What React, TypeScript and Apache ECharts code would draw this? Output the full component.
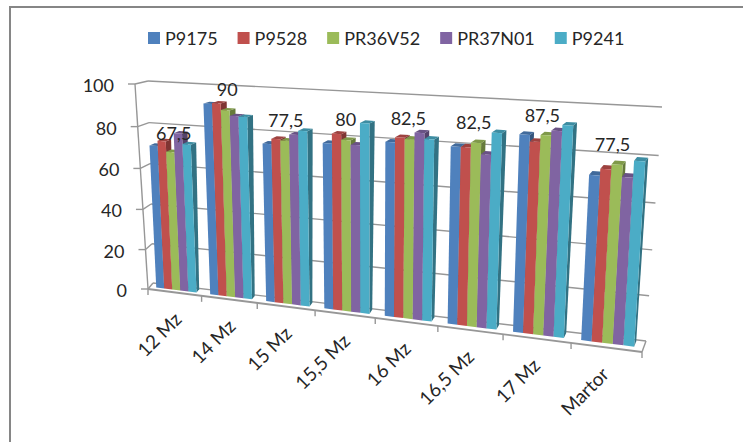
import React, { useEffect, useRef } from "react";
import * as echarts from "echarts";

const categories = ["12 Mz", "14 Mz", "15 Mz", "15,5 Mz", "16 Mz", "16,5 Mz", "17 Mz", "Martor"];
const valueTicks = [0, 20, 40, 60, 80, 100];
const p9175 = [70.5, 92, 75.3, 77.5, 80, 80, 87, 72];
const p9528 = [73, 92.5, 77.8, 82, 82.3, 80, 84.3, 74.9];
const pr36v52 = [68, 89.5, 77.3, 79.5, 81.8, 82.2, 87.3, 77.1];
const pr37n01 = [77.2, 87.1, 80.3, 77.6, 84.9, 77.4, 89.4, 72.1];
const p9241 = [72.3, 87, 82.3, 87.6, 82.4, 87, 92, 79.2];
const labelValues = [67.5, 90, 77.5, 80, 82.5, 82.5, 87.5, 77.5];
const seriesNames = ["P9175", "P9528", "PR36V52", "PR37N01", "P9241"];
const seriesValues = [p9175, p9528, pr36v52, pr37n01, p9241];
const seriesColors = ["#4F81BD", "#C0504D", "#9BBB59", "#8064A2", "#4BACC6"];

const W = 743;
const H = 442;
const FONT = "Lato";
const TEXT = "#262626";
const GRID = "#979797";

type Pt = [number, number];

function homography(bl: Pt, br: Pt, tr: Pt, tl: Pt) {
  const [x0, y0] = bl, [x1, y1] = br, [x2, y2] = tr, [x3, y3] = tl;
  const dx1 = x1 - x2, dx2 = x3 - x2, sx = x0 - x1 + x2 - x3;
  const dy1 = y1 - y2, dy2 = y3 - y2, sy = y0 - y1 + y2 - y3;
  const den = dx1 * dy2 - dx2 * dy1;
  const g = (sx * dy2 - dx2 * sy) / den;
  const h = (dx1 * sy - sx * dy1) / den;
  const a = x1 - x0 + g * x1, b = x3 - x0 + h * x3;
  const d = y1 - y0 + g * y1, e = y3 - y0 + h * y3;
  return (s: number, t: number): Pt => {
    const q = g * s + h * t + 1;
    return [(a * s + b * t + x0) / q, (d * s + e * t + y0) / q];
  };
}

const front = homography([148, 289], [642, 352], [656, 113], [135, 84]);
const back = homography([153, 283], [646, 341], [662, 107], [148, 81]);

// projects a flat grid pixel (the library's scale output) into the 3D scene
function project(px: number, py: number, w: number, du = 0): Pt {
  const s = px / W + du / categories.length;
  const t = (H - py) / H;
  const f = front(s, t);
  const b = back(s, t);
  return [f[0] + (b[0] - f[0]) * w, f[1] + (b[1] - f[1]) * w];
}

function shade(hex: string, k: number) {
  const n = parseInt(hex.slice(1), 16);
  const c = (v: number) => Math.round(Math.min(255, v * k));
  return `rgb(${c((n >> 16) & 255)},${c((n >> 8) & 255)},${c(n & 255)})`;
}

const BAR_U = 0.15;
const W0 = 0.38;
const W1 = 0.88;

function barRenderer(seriesIndex: number, color: string) {
  return (_p: any, api: any) => {
    const top = api.coord([api.value(0), api.value(1)]);
    const base = api.coord([api.value(0), 0]);
    const u0 = -0.38 + seriesIndex * BAR_U;
    const u1 = u0 + BAR_U;
    const a = project(base[0], base[1], W0, u0);
    const b = project(base[0], base[1], W0, u1);
    const c = project(top[0], top[1], W0, u1);
    const d = project(top[0], top[1], W0, u0);
    const b2 = project(base[0], base[1], W1, u1);
    const c2 = project(top[0], top[1], W1, u1);
    const d2 = project(top[0], top[1], W1, u0);
    return {
      type: "group",
      children: [
        { type: "polygon", shape: { points: [b, b2, c2, c] }, style: { fill: shade(color, 0.66) } },
        { type: "polygon", shape: { points: [d, c, c2, d2] }, style: { fill: shade(color, 0.82) } },
        { type: "polygon", shape: { points: [a, b, c, d] }, style: { fill: color } },
      ],
    };
  };
}

function line(p: Pt, q: Pt, width = 1.4) {
  return {
    type: "line",
    shape: { x1: p[0], y1: p[1], x2: q[0], y2: q[1] },
    style: { stroke: GRID, lineWidth: width },
  };
}

function valueAxisRenderer(_p: any, api: any) {
  const v = api.value(1);
  const pos = api.coord([0, v]);
  const zero = api.coord([0, 0]);
  const f = project(0, pos[1], 0);
  const b = project(0, pos[1], 1);
  const r = project(W, pos[1], 1);
  const children: any[] = [
    line([f[0] - 7, f[1]], f),
    line(f, b),
    line(b, r),
    {
      type: "text",
      x: f[0] - 21,
      y: f[1] + 1,
      style: {
        text: String(v),
        fill: TEXT,
        fontFamily: FONT,
        fontSize: 18,
        align: "right",
        verticalAlign: "middle",
      },
    },
  ];
  if (v === 100) {
    const f0 = project(0, zero[1], 0);
    children.push(line(f, f0));
  }
  return { type: "group", children };
}

function categoryAxisRenderer(_p: any, api: any) {
  const i = api.value(0);
  const pos = api.coord([i, 0]);
  const edge = project(pos[0], pos[1], 0, 0.5);
  const center = project(pos[0], pos[1], 0, 0);
  const children: any[] = [
    line(edge, [edge[0], edge[1] + 6]),
    {
      type: "text",
      x: center[0] + 3 - i * 0.6,
      y: center[1] + 23,
      rotation: Math.PI / 4,
      style: {
        text: categories[i],
        fill: TEXT,
        fontFamily: FONT,
        fontSize: 19,
        align: "right",
        verticalAlign: "middle",
      },
    },
  ];
  if (i === 0) {
    const s = project(pos[0], pos[1], 0, -0.5);
    children.push(line(s, [s[0], s[1] + 6]));
    const e = project(W, pos[1], 0);
    children.push(line(s, e, 1.8));
    const e2 = project(W, pos[1], 1);
    children.push(line(e, e2));
  }
  return { type: "group", children };
}

function labelRenderer(_p: any, api: any) {
  const i = api.value(0);
  const v = api.value(1);
  const pos = api.coord([i, v]);
  const p = project(pos[0], pos[1], W0);
  return {
    type: "text",
    x: p[0] + 3 - i * 1.15,
    y: p[1] - 20,
    style: {
      text: String(v).replace(".", ","),
      fill: TEXT,
      fontFamily: FONT,
      fontSize: 18,
      align: "center",
      verticalAlign: "middle",
    },
  };
}

export default function App() {
  const ref = useRef<HTMLDivElement>(null);
  useEffect(() => {
    const chart = echarts.init(ref.current!, undefined, { renderer: "svg" });
    const barSeries = seriesNames.map((name, k) => ({
      type: "custom",
      name,
      renderItem: barRenderer(k, seriesColors[k]),
      encode: { x: 0, y: 1 },
      itemStyle: { color: seriesColors[k] },
      clip: false,
      z: 3,
      data: seriesValues[k].map((v, i) => [i, v]),
    }));
    chart.setOption({
      animation: false,
      backgroundColor: "#ffffff",
      grid: { left: 0, right: 0, top: 0, bottom: 0 },
      xAxis: { type: "category", data: categories, show: false },
      yAxis: { type: "value", min: 0, max: 100, show: false },
      legend: {
        data: seriesNames,
        left: 143,
        top: 24,
        icon: "rect",
        itemWidth: 12,
        itemHeight: 12,
        itemGap: 20,
        textStyle: { fontFamily: FONT, fontSize: 18, color: TEXT },
        selectedMode: false,
      },
      graphic: [
        { type: "rect", shape: { x: 9, y: 6, width: 734, height: 2 }, style: { fill: "#868686" } },
        { type: "rect", shape: { x: 9, y: 6, width: 2, height: 436 }, style: { fill: "#868686" } },
      ],
      series: [
        {
          type: "custom",
          name: "valueAxis",
          renderItem: valueAxisRenderer,
          encode: { x: 0, y: 1 },
          clip: false,
          z: 1,
          data: valueTicks.map((v) => [0, v]),
        },
        {
          type: "custom",
          name: "categoryAxis",
          renderItem: categoryAxisRenderer,
          encode: { x: 0, y: 1 },
          clip: false,
          z: 2,
          data: categories.map((_, i) => [i, 0]),
        },
        ...barSeries,
        {
          type: "custom",
          name: "labels",
          renderItem: labelRenderer,
          encode: { x: 0, y: 1 },
          clip: false,
          z: 5,
          data: labelValues.map((v, i) => [i, v]),
        },
      ],
    });
    return () => chart.dispose();
  }, []);
  return <div ref={ref} style={{ position: "absolute", left: 0, top: 0, width: W, height: H }} />;
}
